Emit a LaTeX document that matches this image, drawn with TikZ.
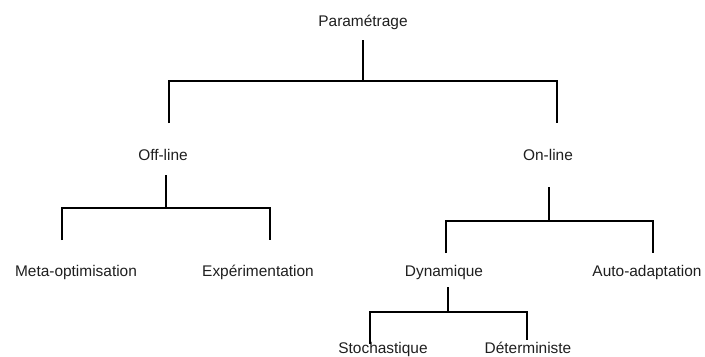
\documentclass[tikz,border=0pt]{standalone}
\usepackage{fontspec}
\setmainfont{Liberation Sans}
\begin{document}
\begin{tikzpicture}[x=1bp,y=-1bp,
  label/.style={anchor=base,inner sep=0pt,text=black!88,font=\fontsize{15.5}{18}\selectfont},
  link/.style={draw=black,line width=1.9bp,line join=miter,line cap=butt}]
\useasboundingbox (0,0) rectangle (705,356);

% labels
\node[label] (root) at (363,26.5) {Paramétrage};
\node[label] (off)  at (163,160.5) {Off-line};
\node[label] (on)   at (548,160.5) {On-line};
\node[label] (meta) at (76,276) {Meta-optimisation};
\node[label] (exp)  at (258,276) {Expérimentation};
\node[label] (dyn)  at (444,276) {Dynamique};
\node[label] (auto) at (647,276) {Auto-adaptation};
\node[label] (sto)  at (383,353) {Stochastique};
\node[label] (det)  at (528,353) {Déterministe};

% branch points and free ends
\coordinate (rootS) at (363,40);  \coordinate (rootJ) at (363,81);
\coordinate (offT)  at (169,123); \coordinate (onT)   at (557,123);
\coordinate (offS)  at (166,175); \coordinate (offJ)  at (166,208);
\coordinate (metaT) at (62,240);  \coordinate (expT)  at (270,240);
\coordinate (onS)   at (549,187); \coordinate (onJ)   at (549,221);
\coordinate (dynT)  at (446,253); \coordinate (autoT) at (653,253);
\coordinate (dynS)  at (448,287); \coordinate (dynJ)  at (448,312);
\coordinate (stoT)  at (370,344); \coordinate (detT)  at (527,340);

% tree connectors
\draw[link] (rootS) -- (rootJ);
\draw[link] (offT) |- (rootJ) -| (onT);
\draw[link] (offS) -- (offJ);
\draw[link] (metaT) |- (offJ) -| (expT);
\draw[link] (onS) -- (onJ);
\draw[link] (dynT) |- (onJ) -| (autoT);
\draw[link] (dynS) -- (dynJ);
\draw[link] (stoT) |- (dynJ) -| (detT);
\end{tikzpicture}
\end{document}
